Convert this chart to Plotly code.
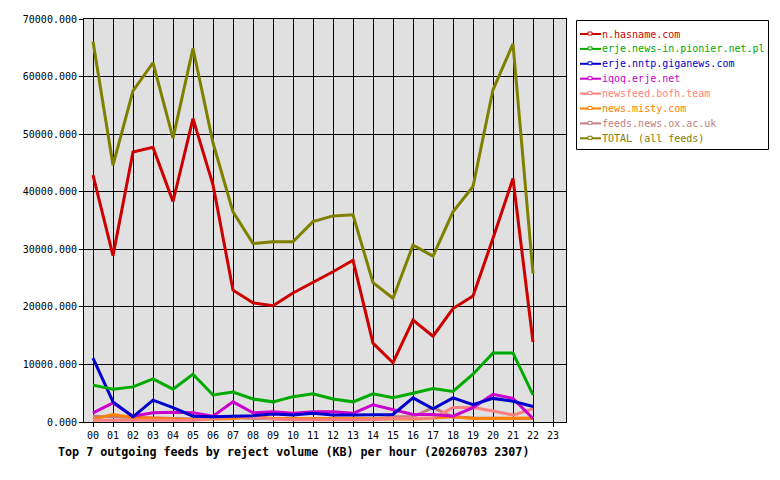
import plotly.graph_objects as go

hours = list(range(23))
tick_labels = ["%02d" % h for h in range(24)]

series_names = [
    "n.hasname.com",
    "erje.news-in.pionier.net.pl",
    "erje.nntp.giganews.com",
    "iqoq.erje.net",
    "newsfeed.bofh.team",
    "news.misty.com",
    "feeds.news.ox.ac.uk",
    "TOTAL (all feeds)",
]
colors = ["#cc0000", "#00aa00", "#0000cc", "#cc00cc", "#ff8080", "#ff8000", "#c08080", "#808000"]

hasname = [42900, 28900, 46900, 47700, 38300, 52700, 41200, 22900, 20700, 20200, 22400, 24200,
           26100, 28100, 13700, 10300, 17700, 14900, 19700, 21900, 31900, 42300, 13900]
pionier = [6400, 5700, 6100, 7500, 5700, 8300, 4700, 5200, 4000, 3500, 4400, 4900,
           4000, 3500, 4900, 4200, 5000, 5800, 5300, 8300, 12000, 12000, 4700]
giganews = [11100, 3500, 900, 3800, 2500, 1000, 900, 1000, 1100, 1400, 1200, 1500,
            1200, 1200, 1200, 1300, 4200, 2300, 4200, 3000, 4100, 3600, 2700]
iqoq = [1600, 3300, 1000, 1600, 1700, 1600, 1000, 3500, 1600, 1800, 1500, 1800,
        1800, 1500, 3000, 2100, 1300, 1300, 1000, 2500, 4800, 4100, 600]
bofh = [300, 300, 300, 300, 300, 300, 600, 900, 900, 500, 400, 400,
        400, 400, 400, 600, 600, 700, 2500, 2500, 1900, 1200, 2300]
misty = [500, 1300, 800, 700, 500, 400, 500, 600, 1000, 600, 600, 600,
         500, 500, 500, 500, 500, 700, 900, 600, 600, 600, 700]
oxac = [1000, 900, 700, 600, 500, 500, 700, 800, 600, 600, 500, 500,
        500, 500, 500, 900, 900, 2500, 900, 700, 600, 600, 600]
total = [66100, 44600, 57500, 62400, 49300, 64900, 48500, 36500, 31000, 31300, 31300, 34800,
         35800, 36000, 24200, 21500, 30700, 28800, 36500, 40900, 57700, 65700, 25800]

all_series = [hasname, pionier, giganews, iqoq, bofh, misty, oxac, total]
y_ticks = [0, 10000, 20000, 30000, 40000, 50000, 60000, 70000]

# plot area geometry in pixels (used to place the hand-drawn legend)
L, R, T, B = 84, 566, 19, 422
W, H = R - L, B - T


def px(x):
    return (x - L) / W


def py(y):
    return (B - y) / H


fig = go.Figure()
order = [6, 5, 4, 3, 2, 1, 0, 7]
for i in order:
    fig.add_trace(go.Scatter(
        x=hours, y=all_series[i], mode="lines",
        name=series_names[i],
        line=dict(color=colors[i], width=3),
        showlegend=False,
    ))

mono = "DejaVu Sans Mono"
shapes = [dict(type="rect", xref="paper", yref="paper",
               x0=px(576.5), x1=px(768.5), y0=py(20.5), y1=py(149.5),
               line=dict(color="black", width=1), fillcolor="white", layer="above")]
annotations = []
for i, name in enumerate(series_names):
    yc = 34 + i * 14.9
    shapes.append(dict(type="line", xref="paper", yref="paper",
                       x0=px(580), x1=px(601), y0=py(yc), y1=py(yc),
                       line=dict(color=colors[i], width=2), layer="above"))
    shapes.append(dict(type="rect", xref="paper", yref="paper",
                       x0=px(588), x1=px(592), y0=py(yc + 1), y1=py(yc - 2),
                       line=dict(color=colors[i], width=1), fillcolor="white", layer="above"))
    annotations.append(dict(
        text=name, xref="paper", yref="paper", x=px(600), y=py(yc),
        xanchor="left", yanchor="middle", showarrow=False,
        font=dict(family=mono, size=10, color=colors[i]),
    ))

annotations.append(dict(
    text="<b>Top 7 outgoing feeds by reject volume (KB) per hour (20260703 2307)</b>",
    xref="paper", yref="paper", x=px(56), y=py(452),
    xanchor="left", yanchor="middle", showarrow=False,
    font=dict(family=mono, size=11.7, color="black"),
))

fig.update_layout(
    width=780, height=480,
    margin=dict(l=L, r=780 - R, t=T, b=480 - B),
    paper_bgcolor="white",
    plot_bgcolor="#e0e0e0",
    font=dict(family=mono, size=10, color="black"),
    showlegend=False,
    xaxis=dict(
        range=[-0.45, 23.65], tickmode="array",
        tickvals=list(range(24)), ticktext=tick_labels,
        showgrid=True, gridcolor="black", gridwidth=1,
        showline=True, linecolor="black", linewidth=1, mirror=True,
        ticks="outside", ticklen=4, tickcolor="black",
        zeroline=False, fixedrange=True,
    ),
    yaxis=dict(
        range=[0, 70000], tickmode="array",
        tickvals=y_ticks, ticktext=["%.3f" % v for v in y_ticks],
        showgrid=True, gridcolor="black", gridwidth=1,
        showline=True, linecolor="black", linewidth=1, mirror=True,
        ticks="outside", ticklen=4, tickcolor="black",
        zeroline=False, fixedrange=True,
    ),
    shapes=shapes,
    annotations=annotations,
)

fig.write_html("out.html")
